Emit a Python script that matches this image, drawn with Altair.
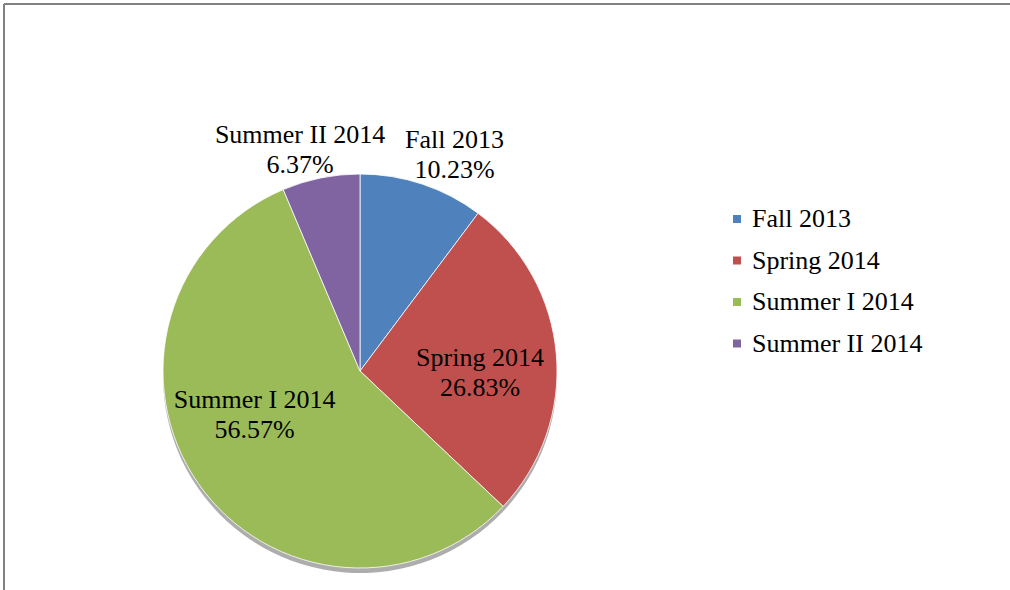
import altair as alt
import pandas as pd

# ---- data ----
categories = ["Fall 2013", "Spring 2014", "Summer I 2014", "Summer II 2014"]
shares = [10.23, 26.83, 56.57, 6.37]

# ---- styling ----
colors = ["#4F81BD", "#C0504D", "#9BBB59", "#8064A2"]
CX, CY, R = 360, 371, 197
FONT = "Liberation Serif"
# label placement: angle nudge (degrees) and distance from centre (px)
label_nudge = {"Fall 2013": 5.2, "Spring 2014": 5.8, "Summer I 2014": 12.3, "Summer II 2014": -3.7}
label_radius = {"Fall 2013": 236, "Spring 2014": 120, "Summer I 2014": 114, "Summer II 2014": 229}


def case_expr(mapping):
    expr = "0"
    for k, v in mapping.items():
        expr = f"(datum.term === '{k}' ? {v} : {expr})"
    return expr


df = pd.DataFrame({"term": categories, "share": shares, "order": list(range(len(categories)))})
base = alt.Chart(df)

theta = alt.Theta("share:Q", stack=True)
order = alt.Order("order:Q")

shadow = base.mark_arc(color="#4a4a4a", opacity=0.45).encode(
    theta=theta, order=order,
    x=alt.value(CX), y=alt.value(CY + 5), radius=alt.value(R),
)

arcs = base.mark_arc(stroke="#ffffff", strokeWidth=0.8).encode(
    theta=theta,
    order=order,
    x=alt.value(CX),
    y=alt.value(CY),
    radius=alt.value(R),
    color=alt.Color(
        "term:N",
        sort=categories,
        scale=alt.Scale(domain=categories, range=colors),
        legend=alt.Legend(
            title=None,
            orient="none",
            legendX=724,
            legendY=206,
            symbolType="square",
            symbolSize=64,
            symbolStrokeWidth=0,
            labelFont=FONT,
            labelFontSize=26,
            labelColor="#000000",
            labelOffset=2,
            labelLimit=400,
            rowPadding=15.5,
        ),
    ),
)

labels = (
    base.transform_window(cum="sum(share)", sort=[alt.SortField("order")], frame=[None, 0])
    .transform_joinaggregate(total="sum(share)")
    .transform_calculate(mid="(datum.cum - datum.share / 2) / datum.total * 360")
    .transform_calculate(
        ang=f"(datum.mid + {case_expr(label_nudge)}) * PI / 180",
        rad=case_expr(label_radius),
    )
    .transform_calculate(
        lx=f"{CX} + datum.rad * sin(datum.ang)",
        ly=f"{CY} - datum.rad * cos(datum.ang)",
        label="datum.term + '\\n' + format(datum.share, '.2f') + '%'",
    )
    .mark_text(font=FONT, fontSize=26, lineHeight=30, lineBreak="\n", dy=-15,
               align="center", baseline="middle", color="#000000")
    .encode(x=alt.X("lx:Q", scale=None), y=alt.Y("ly:Q", scale=None), text="label:N")
)

frame_top = base.mark_rule(color="#808080", strokeWidth=1.5).encode(
    x=alt.value(4), x2=alt.value(1010), y=alt.value(4)
)
frame_left = base.mark_rule(color="#808080", strokeWidth=1.5).encode(
    x=alt.value(4), y=alt.value(4), y2=alt.value(590)
)

chart = (
    alt.layer(frame_top, frame_left, shadow, arcs, labels)
    .properties(width=1010, height=590, padding=0, autosize=alt.AutoSizeParams(type="none"), background="white")
    .configure_view(strokeWidth=0)
)

chart.save("out.html", embed_options={"renderer": "svg", "actions": False})
